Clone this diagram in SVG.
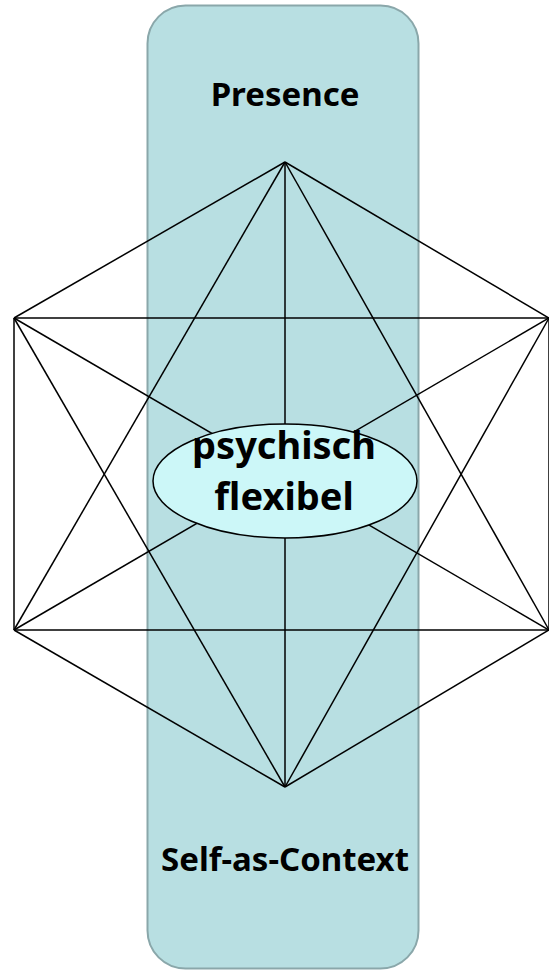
<svg xmlns="http://www.w3.org/2000/svg" width="549" height="973" viewBox="0 0 549 973">
<style>
.lbl{font-family:"Noto Sans","Open Sans","Liberation Sans",sans-serif;font-weight:bold;fill:#000;text-anchor:middle}
.ln{stroke:#000;stroke-width:1.5;fill:none}
</style>
<rect width="549" height="973" fill="#fff"/>
<g id="band">
<rect x="147.5" y="5.5" width="271" height="963" rx="38" ry="38" fill="#b8dfe2" stroke="#8aa7aa" stroke-width="2"/>
<text class="lbl" x="285" y="106" font-size="33">Presence</text>
<text class="lbl" x="285" y="871" font-size="33">Self-as-Context</text>
</g>
<g id="connectors" class="ln">
<line x1="285" y1="162" x2="14" y2="318"/>
<line x1="285" y1="162" x2="549" y2="318"/>
<line x1="285" y1="162" x2="14" y2="630"/>
<line x1="285" y1="162" x2="549" y2="630"/>
<line x1="285" y1="162" x2="285" y2="787"/>
<line x1="14" y1="318" x2="549" y2="318"/>
<line x1="14" y1="318" x2="14" y2="630"/>
<line x1="14" y1="318" x2="549" y2="630"/>
<line x1="14" y1="318" x2="285" y2="787"/>
<line x1="549" y1="318" x2="14" y2="630"/>
<line x1="549" y1="318" x2="549" y2="630"/>
<line x1="549" y1="318" x2="285" y2="787"/>
<line x1="14" y1="630" x2="549" y2="630"/>
<line x1="14" y1="630" x2="285" y2="787"/>
<line x1="549" y1="630" x2="285" y2="787"/>
</g>
<g id="center">
<ellipse cx="285" cy="481" rx="132" ry="57" fill="#ccf7f8" stroke="#000" stroke-width="1.5"/>
<text class="lbl" x="284" y="459" font-size="38">psychisch</text>
<text class="lbl" x="284" y="510" font-size="38">flexibel</text>
</g>
</svg>
